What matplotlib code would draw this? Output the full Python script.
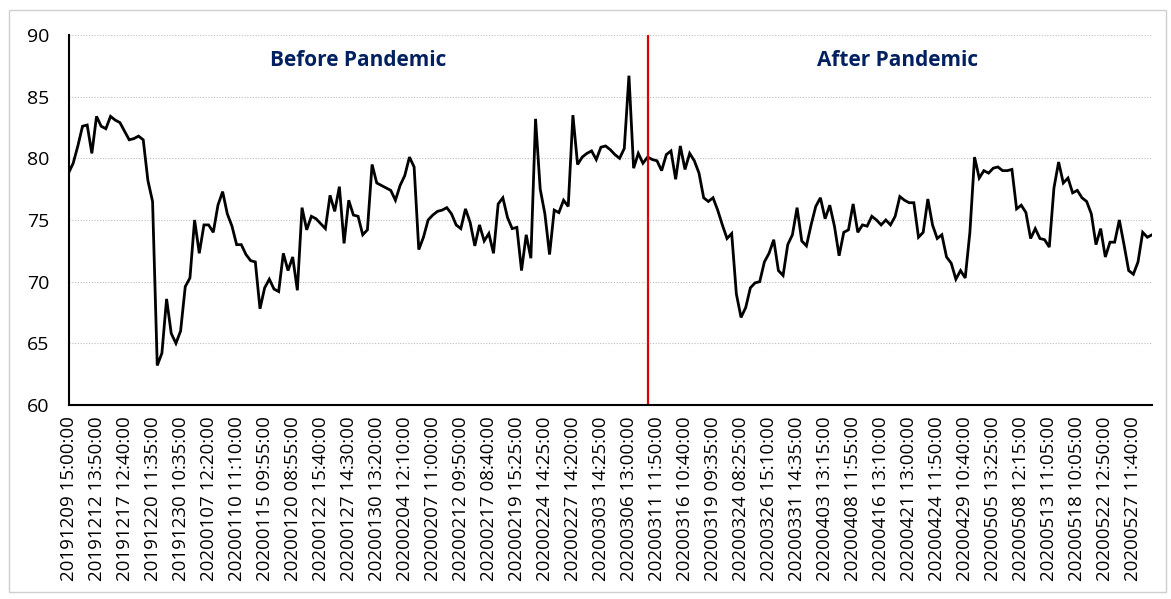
import numpy as np
import matplotlib
matplotlib.use("Agg")
import matplotlib.pyplot as plt
from matplotlib.patches import Rectangle

plt.rcParams['font.family'] = ['Open Sans', 'DejaVu Sans']

# --- data (6 samples per labelled tick) ---
seg1 = [78.8, 79.6, 81.0, 82.6, 82.7, 80.4, 83.4, 82.6, 82.4, 83.4,
        83.1, 82.9, 82.2, 81.5, 81.6, 81.8, 81.5, 78.2, 76.5, 63.2,
        64.2, 68.6, 65.8, 65.0, 66.0, 69.6, 70.3, 75.0, 72.3, 74.6,
        74.6, 74.0, 76.2, 77.3, 75.5, 74.5, 73.0, 73.0, 72.2, 71.7]
seg2 = [71.6, 67.8, 69.5, 70.2, 69.4, 69.2, 72.3, 70.9, 72.0, 69.3,
        76.0, 74.2, 75.3, 75.1, 74.7, 74.3, 77.0, 75.7, 77.7, 73.1,
        76.6, 75.4, 75.3, 73.8, 74.2, 79.5, 78.0, 77.8, 77.6, 77.4,
        76.6, 77.8, 78.6, 80.1, 79.3, 72.6, 73.6, 75.0, 75.4]
seg3 = [75.7, 75.8, 76.0, 75.5, 74.6, 74.3, 75.9, 74.8, 72.9, 74.6,
        73.3, 73.9, 72.3, 76.3, 76.8, 75.2, 74.3, 74.4, 70.9, 73.8,
        71.9, 83.2, 77.5, 75.5, 72.2, 75.8, 75.6, 76.6, 76.1, 83.5,
        79.5, 80.1, 80.4, 80.6, 79.9, 80.9, 81.0, 80.7, 80.3, 80.0]
seg4 = [80.8, 86.7, 79.2, 80.4, 79.6, 80.1, 79.9, 79.8, 79.0, 80.3,
        80.6, 78.3, 81.0, 79.1, 80.4, 79.8, 78.8, 76.8, 76.5, 76.8,
        75.8, 74.6, 73.5, 73.9, 69.0, 67.1, 67.9, 69.5, 69.9, 70.0,
        71.6, 72.3, 73.4, 70.9, 70.5, 73.0, 73.8, 76.0, 73.3]
seg5 = [72.9, 74.6, 76.1, 76.8, 75.1, 76.2, 74.5, 72.1, 74.0, 74.2,
        76.3, 74.0, 74.6, 74.5, 75.3, 75.0, 74.6, 75.0, 74.6, 75.3,
        76.9, 76.6, 76.4, 76.4, 73.6, 74.0, 76.7, 74.6, 73.5, 73.8,
        72.0, 71.5, 70.2, 70.9, 70.3, 74.0, 80.1]
seg6 = [78.4, 79.0, 78.8, 79.2, 79.3, 79.0, 79.0, 79.1, 75.9, 76.2,
        75.6, 73.5, 74.3, 73.5, 73.4, 72.8, 77.6, 79.7, 78.0, 78.4,
        77.2, 77.4, 76.8, 76.5, 75.5, 73.0, 74.3, 72.0, 73.2, 73.2,
        75.0, 73.0, 70.9, 70.6, 71.6, 74.0, 73.6, 73.8]

tick_labels = [
    "20191209 15:00:00", "20191212 13:50:00", "20191217 12:40:00",
    "20191220 11:35:00", "20191230 10:35:00", "20200107 12:20:00",
    "20200110 11:10:00", "20200115 09:55:00", "20200120 08:55:00",
    "20200122 15:40:00", "20200127 14:30:00", "20200130 13:20:00",
    "20200204 12:10:00", "20200207 11:00:00", "20200212 09:50:00",
    "20200217 08:40:00", "20200219 15:25:00", "20200224 14:25:00",
    "20200227 14:20:00", "20200303 14:25:00", "20200306 13:00:00",
    "20200311 11:50:00", "20200316 10:40:00", "20200319 09:35:00",
    "20200324 08:25:00", "20200326 15:10:00", "20200331 14:35:00",
    "20200403 13:15:00", "20200408 11:55:00", "20200416 13:10:00",
    "20200421 13:00:00", "20200424 11:50:00", "20200429 10:40:00",
    "20200505 13:25:00", "20200508 12:15:00", "20200513 11:05:00",
    "20200518 10:05:00", "20200522 12:50:00", "20200527 11:40:00",
]
samples_per_tick = 6
split_idx = 124  # pandemic marker

values = np.array(seg1 + seg2 + seg3 + seg4 + seg5 + seg6)
idx = np.arange(len(values))

# --- plot ---
fig = plt.figure(figsize=(11.71, 5.99), dpi=100)
ax = fig.add_axes([0.0585, 0.3239, 0.9253, 0.6177])

ax.plot(idx, values, color='black', lw=2.0, solid_joinstyle='miter')
ax.axvline(split_idx, color='#e00000', lw=1.6)

ax.set_xlim(0, len(values) - 1)
ax.set_ylim(60, 90)
ax.set_yticks(np.arange(60, 91, 5))
ax.set_xticks(np.arange(len(tick_labels)) * samples_per_tick)
ax.set_xticklabels(tick_labels, rotation=90, fontsize=13.5)
ax.tick_params(axis='x', length=0, pad=8)
ax.tick_params(axis='y', length=0, pad=14, labelsize=14)

ax.yaxis.grid(True, color='#bdbdbd', lw=0.8, linestyle=(0, (1, 1.5)))
ax.set_axisbelow(True)
for s in ['top', 'right']:
    ax.spines[s].set_visible(False)
for s in ['left', 'bottom']:
    ax.spines[s].set_linewidth(1.5)
    ax.spines[s].set_color('black')

ax.text(0.267, 0.932, "Before Pandemic", transform=ax.transAxes,
        ha='center', va='center', fontsize=15, fontweight='bold', color='#002060')
ax.text(0.765, 0.932, "After Pandemic", transform=ax.transAxes,
        ha='center', va='center', fontsize=15, fontweight='bold', color='#002060')

# light chart-area border
fig.patches.append(Rectangle((9 / 1171, 1 - 592 / 599), 1157 / 1171, 582 / 599,
                             transform=fig.transFigure, fill=False,
                             edgecolor='#d0d0d0', lw=1))

fig.savefig("out.png", dpi=100)
